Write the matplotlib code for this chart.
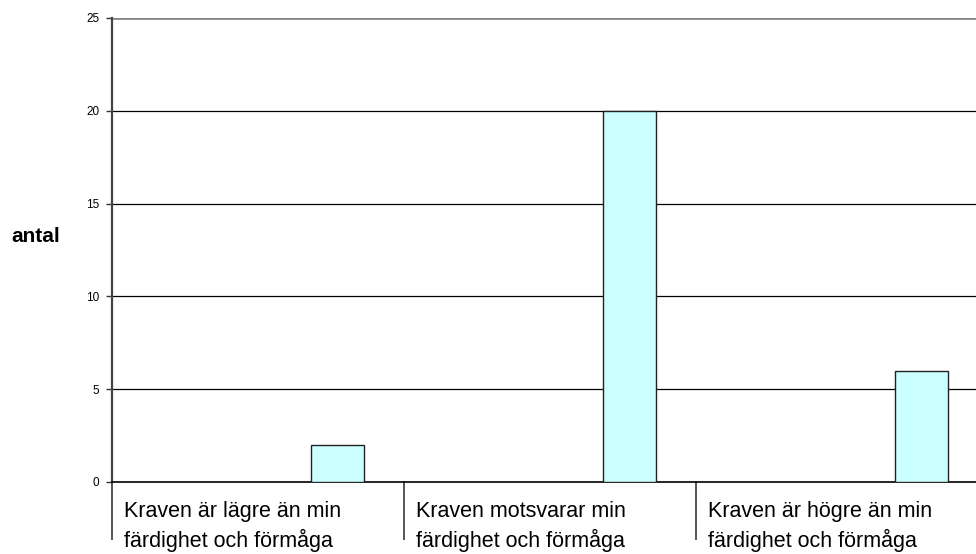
import matplotlib
matplotlib.use("Agg")
import matplotlib.pyplot as plt
import numpy as np

categories = [
    ("Kraven är lägre än min", "färdighet och förmåga"),
    ("Kraven motsvarar min", "färdighet och förmåga"),
    ("Kraven är högre än min", "färdighet och förmåga"),
]
values = [2, 20, 6]
y_ticks = [0, 5, 10, 15, 20, 25]
y_label = "antal"

plt.rcParams["font.family"] = ["Liberation Sans", "DejaVu Sans"]

W, H = 976, 554
fig = plt.figure(figsize=(W / 100, H / 100), dpi=100)
# axes run past the right edge of the figure, like a cropped sheet
ax = fig.add_axes([112 / W, 72 / H, 876 / W, 464 / H])

n = len(values)
x0 = np.arange(n)
bar_offset = 0.772
bar_width = 0.182
ax.bar(x0 + bar_offset, values, width=bar_width, color="#CCFFFF",
       edgecolor="#222222", linewidth=1.0, zorder=3)

ax.set_xlim(0, n)
ax.set_ylim(0, 25)
ax.set_yticks(y_ticks)
ax.set_yticklabels([str(v) for v in y_ticks], fontsize=8.5)
ax.tick_params(axis="y", length=4, width=1, color="#333333", pad=5)
ax.set_xticks([])

for v in y_ticks[1:-1]:
    ax.axhline(v, color="black", linewidth=0.9, zorder=1)
ax.axhline(25, color="#888888", linewidth=2.0, zorder=1)

for s in ["top", "right"]:
    ax.spines[s].set_visible(False)
ax.spines["left"].set_color("#444444")
ax.spines["left"].set_linewidth(1.6)
ax.spines["bottom"].set_color("black")
ax.spines["bottom"].set_linewidth(1.2)

# category dividers below the axis
drop = 57 / 464
for i in range(n + 1):
    ax.plot([i, i], [0, -drop], transform=ax.get_xaxis_transform(),
            color="#555555", linewidth=1.4, clip_on=False)

# two-line category labels
for i, (l1, l2) in enumerate(categories):
    ax.text(i + 12 / 292, -35 / 464, l1, transform=ax.get_xaxis_transform(),
            ha="left", va="baseline", fontsize=15.5)
    ax.text(i + 12 / 292, -65 / 464, l2, transform=ax.get_xaxis_transform(),
            ha="left", va="baseline", fontsize=15.5)

fig.text(36 / W, 1 - 236 / H, y_label, ha="center", va="center",
         fontsize=15, fontweight="bold")

fig.savefig("out.png", dpi=100, facecolor="white")
